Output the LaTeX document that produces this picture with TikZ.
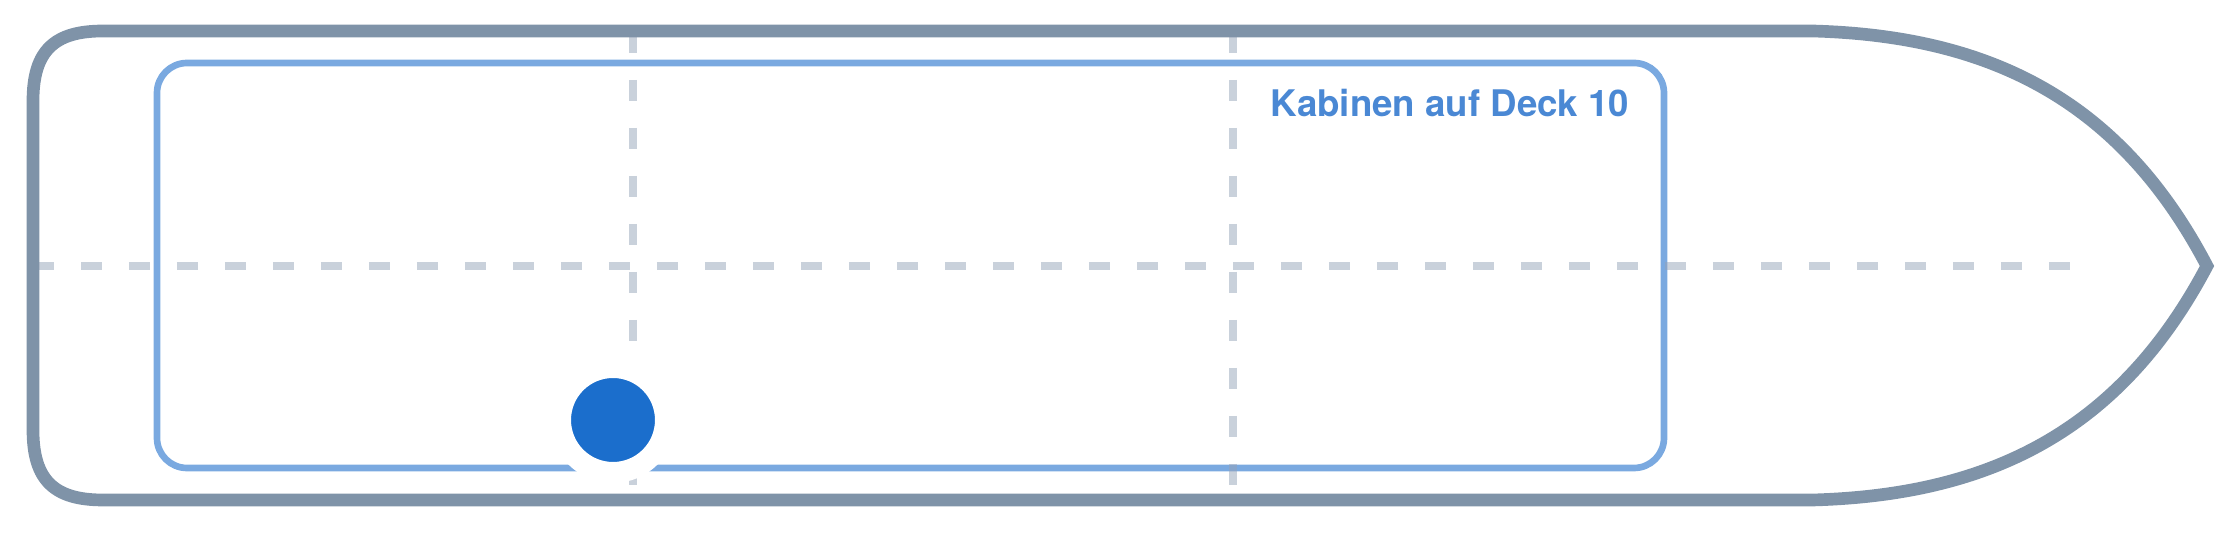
\documentclass[tikz,border=0pt]{standalone}
\usepackage{fontspec}
\setsansfont{TeX Gyre Heros}
\usetikzlibrary{positioning}
\definecolor{hullgray}{HTML}{7F93A8}
\definecolor{deckblue}{HTML}{7AA9E0}
\definecolor{gridgray}{HTML}{94A3B8}
\definecolor{dotblue}{HTML}{1B6ECC}
\definecolor{labelblue}{HTML}{4A88D4}

\begin{document}
\begin{tikzpicture}[x=0.3pt, y=-0.3pt,
	hull/.style={hullgray, line width=3.8pt, line join=miter},
	deck/.style={deckblue, line width=2pt, rounded corners=9pt},
	gridline/.style={gridgray, opacity=0.5, line width=2.4pt, dash pattern=on 6.3pt off 8.1pt}]
	\useasboundingbox (0,0) rectangle (2240,533);

	\coordinate (dl) at (157,63);
	\coordinate (dr) at (1664,468);
	\draw[deck] (dl) rectangle (dr);

	\coordinate (h1) at (33,266);
	\coordinate (h2) at (2070,266);
	\coordinate (v1a) at (633,32);
	\coordinate (v1b) at (633,485);
	\coordinate (v2a) at (1233,32);
	\coordinate (v2b) at (1233,485);
	\draw[gridline] (h1) -- (h2);
	\draw[gridline] (v1a) -- (v1b);
	\draw[gridline] (v2a) -- (v2b);

	\coordinate (bow) at (2207,266);
	\draw[hull] (bow) .. controls (2120,100) and (1990,36) .. (1813,31) -- (103,31)
		.. controls (55,31) and (33,50) .. (33,101) -- (33,430)
		.. controls (33,481) and (55,500) .. (103,500) -- (1813,500)
		.. controls (1990,495) and (2120,431) .. cycle;

	\node[circle, fill=dotblue, draw=white, line width=6.3pt, minimum size=31.5pt, inner sep=0pt] (cabin) at (613,420) {};
	\node[anchor=base east, labelblue, font=\sffamily\bfseries\fontsize{11pt}{13pt}\selectfont, inner sep=0pt] (title) at (1630,117) {Kabinen auf Deck 10};
\end{tikzpicture}
\end{document}
